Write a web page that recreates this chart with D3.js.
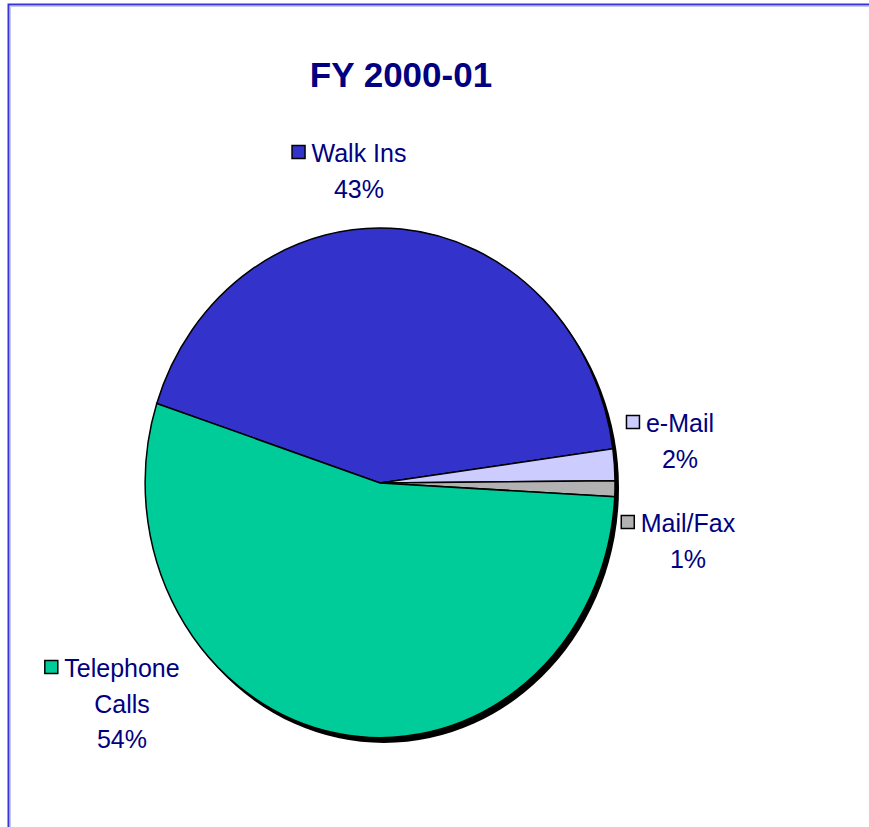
<!DOCTYPE html>
<html>
<head>
<meta charset="utf-8">
<script src="https://cdn.jsdelivr.net/npm/d3@7"></script>
<style>
  body { margin: 0; background: #fff; }
  svg { display: block; font-family: "Liberation Sans", Arial, sans-serif; }
</style>
</head>
<body>
<script>
// data
const categories = ['Walk Ins', 'e-Mail', 'Mail/Fax', 'Telephone Calls'];
const shares = [42.8, 2.0, 1.0, 54.2];
const pctLabels = ['43%', '2%', '1%', '54%'];
const sliceColors = ['#3333cc', '#ccccff', '#b2b2b2', '#00cc99'];

// where each label block sits (center x of text, baseline of first line)
const labelPos = [[359, 162], [680, 432], [688, 532], [122, 677]];
const labelLines = [['Walk Ins'], ['e-Mail'], ['Mail/Fax'], ['Telephone', 'Calls']];

const width = 869, height = 827;
const cx = 380, cy = 483, rx = 235, ry = 255;

const svg = d3.select('body').append('svg')
  .attr('width', width)
  .attr('height', height);

// frame (only top and left edges show)
svg.append('path')
  .attr('d', `M8.5,${height} L8.5,4.5 L${width},4.5`)
  .attr('fill', 'none')
  .attr('stroke', '#3636d6')
  .attr('stroke-width', 2);
svg.append('path')
  .attr('d', `M10.5,${height} L10.5,6.5 L${width},6.5`)
  .attr('fill', 'none')
  .attr('stroke', '#c8c8f4')
  .attr('stroke-width', 1);

svg.append('text')
  .attr('x', 401)
  .attr('y', 87)
  .attr('text-anchor', 'middle')
  .attr('font-size', 35)
  .attr('font-weight', 'bold')
  .attr('fill', '#000080')
  .text('FY 2000-01');

const pie = d3.pie().sort(null)
  .startAngle(-71.8 * Math.PI / 180)
  .endAngle((360 - 71.8) * Math.PI / 180);
const arc = d3.arc().innerRadius(0).outerRadius(1);

// shadow under the pie
svg.append('ellipse')
  .attr('cx', cx + 4)
  .attr('cy', cy + 5)
  .attr('rx', rx)
  .attr('ry', ry)
  .attr('fill', '#000');

const g = svg.append('g')
  .attr('transform', `translate(${cx},${cy}) scale(${rx},${ry})`);

g.selectAll('path')
  .data(pie(shares))
  .enter()
  .append('path')
  .attr('d', arc)
  .attr('fill', (d, i) => sliceColors[i])
  .attr('stroke', '#000')
  .attr('stroke-width', 1.5)
  .attr('vector-effect', 'non-scaling-stroke');

// labels
const lineH = 35.5;
categories.forEach((c, i) => {
  const [x, y] = labelPos[i];
  const lines = labelLines[i].concat([pctLabels[i]]);
  const t = svg.append('text')
    .attr('font-size', 25)
    .attr('fill', '#000080')
    .attr('text-anchor', 'middle');
  lines.forEach((l, j) => {
    t.append('tspan')
      .attr('x', x)
      .attr('y', y + j * lineH)
      .text(l);
  });
  const first = t.select('tspan').node().getComputedTextLength();
  svg.append('rect')
    .attr('x', x - first / 2 - 19.5)
    .attr('y', y - 16.5)
    .attr('width', 13)
    .attr('height', 13)
    .attr('fill', sliceColors[i])
    .attr('stroke', '#000')
    .attr('stroke-width', 1.5);
});
</script>
</body>
</html>
